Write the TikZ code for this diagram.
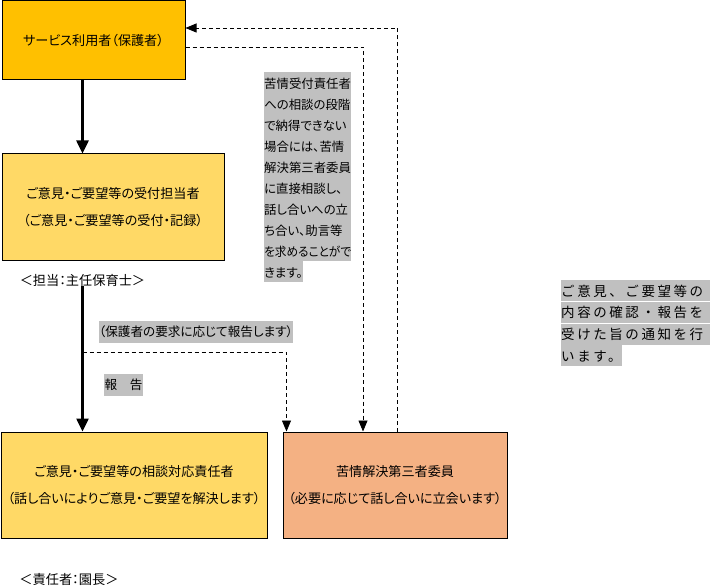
\documentclass[tikz,border=0pt]{standalone}
\usepackage{fontspec}
\usepackage{tikz}
\usetikzlibrary{arrows.meta}
\setmainfont{Noto Sans CJK JP}[RawFeature=+palt]
\newfontfamily\jpwide{Noto Sans CJK JP}[LetterSpace=19]
\definecolor{userorange}{RGB}{255,192,0}
\definecolor{lightgold}{RGB}{255,217,102}
\definecolor{peach}{RGB}{244,177,131}
\definecolor{hlgray}{RGB}{192,192,192}
\newlength{\hlwidth}
\newcommand{\hl}[1]{{\setlength{\fboxsep}{0pt}\colorbox{hlgray}{\rule[-5pt]{0pt}{21pt}#1}}}
\newcommand{\hlline}[1]{{\setlength{\fboxsep}{0pt}\colorbox{hlgray}{\rule[-5pt]{0pt}{21pt}\makebox[\hlwidth][l]{#1}}}}

\begin{document}
\begin{tikzpicture}[x=1pt,y=-1pt,
	box/.style={draw, line width=1pt, align=center, inner sep=0, font=\fontsize{13.1}{27}\selectfont},
	label/.style={inner sep=0, font=\fontsize{13.2}{15}\selectfont},
	tag/.style={fill=hlgray, inner xsep=0.5pt, inner ysep=5pt, font=\fontsize{12.6}{14}\selectfont},
	note/.style={inner sep=0, align=left, anchor=north west},
	bigarrow/.style={line width=2.5pt, -{Triangle[width=12pt, length=13pt]}},
	dasharrow/.style={line width=0.8pt, dash pattern=on 4pt off 3pt, -{Triangle[width=9pt, length=11pt]}}]
			\useasboundingbox (0,0) rectangle (710,588);
			\node[box, fill=userorange, minimum width=183, minimum height=79] (user) at (93.5,40.5) {サービス利用者（保護者）};
			\node[box, fill=lightgold, minimum width=222, minimum height=107] (recep) at (113,207.5) {ご意見・ご要望等の受付担当者\\（ご意見・ご要望等の受付・記録）};
			\node[label] (tantou) at (82.5,280) {＜担当：主任保育士＞};
			\node[box, fill=lightgold, minimum width=266, minimum height=106] (resp) at (134,485) {ご意見・ご要望等の相談対応責任者\\（話し合いによりご意見・ご要望を解決します）};
			\node[box, fill=peach, minimum width=224, minimum height=106] (third) at (395,485) {苦情解決第三者委員\\（必要に応じて話し合いに立会います）};
			\node[label] (encho) at (69,580) {＜責任者：園長＞};
			\node[tag] (youkyuu) at (196,332) {（保護者の要求に応じて報告します）};
			\node[tag] (houkoku) at (123.5,385) {報　告};
			\node[note, font=\fontsize{12.4}{21}\selectfont\setlength{\hlwidth}{87pt}] (advice) at (264,72) {\hlline{苦情受付責任者}\\\hlline{への相談の段階}\\\hlline{で納得できない}\\\hlline{場合には、苦情}\\\hlline{解決第三者委員}\\\hlline{に直接相談し、}\\\hlline{話し合いへの立}\\\hlline{ち合い、助言等}\\\hlline{\scalebox{0.94}[1]{を求めることがで}}\\\hl{きます。}};
			\node[note, font=\jpwide\fontsize{13.5}{21.7}\selectfont\setlength{\hlwidth}{149pt}] (notice) at (561,280) {\hlline{ご意見、ご要望等の}\\\hlline{内容の確認・報告を}\\\hlline{受けた旨の通知を行}\\\hl{います。}};
			\coordinate (branch) at (82.5,352);
			
			\draw[bigarrow] (user.south -| tantou) -- (recep.north -| tantou);
			\draw[bigarrow] (tantou.south) -- (resp.north -| tantou);
			\draw[dasharrow] (branch) -| ([xshift=4pt]third.north west);
			\draw[dasharrow] ([yshift=-6.5pt]user.east) -| ([xshift=-32pt]third.north);
			\draw[dasharrow] ([xshift=2pt]third.north) |- ([yshift=12.5pt]user.east);
		\end{tikzpicture}
\end{document}
